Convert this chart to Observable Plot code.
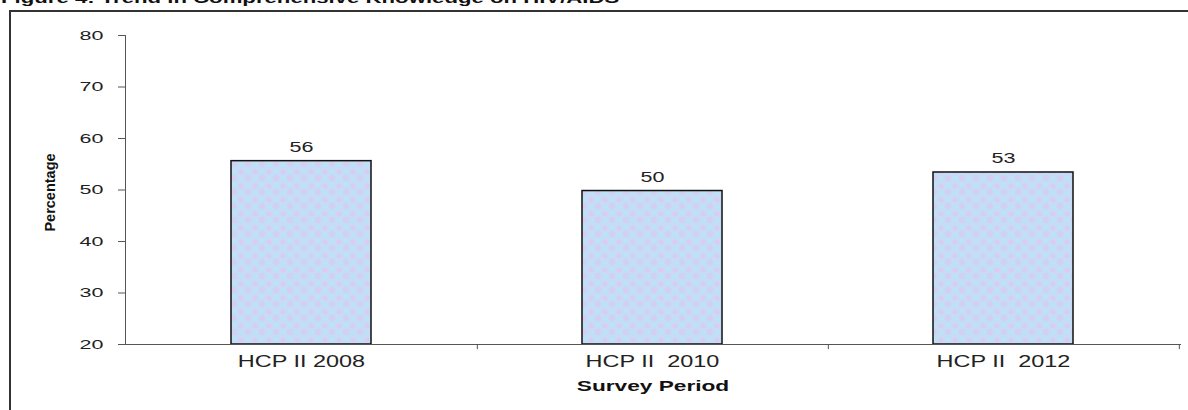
<!DOCTYPE html>
<html><head><meta charset="utf-8">
<script src="https://cdn.jsdelivr.net/npm/d3@7"></script>
<script src="https://cdn.jsdelivr.net/npm/@observablehq/plot@0.6"></script>
<style>
html,body{margin:0;padding:0;background:#fff;width:1188px;height:410px;overflow:hidden;position:relative;font-family:"Liberation Sans",Arial,sans-serif;}
#title{position:absolute;left:1px;top:-10px;font-weight:bold;font-size:15.5px;line-height:15.5px;white-space:nowrap;transform:scaleX(1.43);transform-origin:0 0;color:#111;}
#frame{position:absolute;left:9px;top:10px;width:1300px;height:500px;border-top:2px solid #333;border-left:2px solid #333;}
#chart{position:absolute;left:0;top:0;}
svg text{white-space:pre;}
</style></head><body>
<div id="title">Figure 4: Trend in Comprehensive Knowledge on HIV/AIDS</div>
<div id="frame"></div>
<div id="chart"></div>
<script>
const categories = ["HCP II 2008", "HCP II  2010", "HCP II  2012"];
const values = [55.6, 49.8, 53.4];
const yTicks = [20, 30, 40, 50, 60, 70, 80];
const yLabel = "Percentage";
const xLabel = "Survey Period";

const data = categories.map((c, i) => ({category: c, value: values[i], label: d3.format(".0f")(values[i])}));
const W = 1188, H = 410, ml = 125, mr = 8, mt = 35, mb = 66;
const step = (W - ml - mr) / categories.length;

const chart = Plot.plot({
  width: W, height: H, marginLeft: ml, marginRight: mr, marginTop: mt, marginBottom: mb,
  style: {background: "transparent", fontFamily: "Liberation Sans, Arial, sans-serif", color: "#222", overflow: "visible"},
  x: {domain: categories, type: "band", paddingInner: 0.6, paddingOuter: 0.3},
  y: {domain: [20, 80]},
  marks: [
    Plot.barY(data, {x: "category", y1: 20, y2: "value", fill: "url(#tex)", stroke: "#111", strokeWidth: 1.5}),
    Plot.frame({anchor: "left", stroke: "#555"}),
    Plot.frame({anchor: "bottom", stroke: "#555"}),
    Plot.ruleX(categories, {x: d => d, dx: step / 2, y1: 20, y2: 19, stroke: "#555"}),
    Plot.axisY(yTicks, {tickSize: 7, tickPadding: 15, fontSize: 12.8, stroke: "#555", fill: "#222", label: null}),
    Plot.axisX({tickSize: 0, tickPadding: 11, fontSize: 16.3, fill: "#222", label: null}),
    Plot.text(data, {x: "category", y: "value", text: "label", lineAnchor: "bottom", dy: -9.5, fontSize: 15.4, fill: "#222"}),
    Plot.text([xLabel], {frameAnchor: "bottom", textAnchor: "middle", lineAnchor: "top", dy: 36.7, fontSize: 14, fontWeight: "bold", fill: "#111"}),
    Plot.text([yLabel], {frameAnchor: "left", rotate: -90, textAnchor: "middle", lineAnchor: "middle", dx: -75, dy: 2.5, fontSize: 14.5, fontWeight: "bold", fill: "#111"})
  ]
});

const ns = "http://www.w3.org/2000/svg";
const defs = document.createElementNS(ns, "defs");
defs.innerHTML = `<pattern id="tex" width="14" height="14" patternUnits="userSpaceOnUse">
<rect width="14" height="14" fill="#c4ddf6"/>
<circle cx="3" cy="4" r="2.5" fill="#dccbf0"/>
<circle cx="10" cy="10" r="3" fill="#d4cef2"/>
<circle cx="10" cy="3" r="1.8" fill="#bbe4f7"/>
<circle cx="4" cy="11" r="1.8" fill="#bde2f7"/>
</pattern>`;
chart.insertBefore(defs, chart.firstChild);
document.getElementById("chart").appendChild(chart);

// horizontal stretch of the glyphs, as in the reference
const scaleMap = {"12.8": 1.68, "15.4": 1.4, "16.3": 1.44, "14.0": 1.62};
chart.querySelectorAll("text").forEach(t => {
  const fs = parseFloat(getComputedStyle(t).fontSize).toFixed(1);
  const s = scaleMap[fs];
  if (!s) return;
  let tr = t.getAttribute("transform") || "";
  const x = t.getAttribute("x");
  if (x !== null && isFinite(+x)) {
    tr += ` translate(${+x},0)`;
    t.removeAttribute("x");
  }
  t.setAttribute("transform", `${tr} scale(${s},1)`);
});
</script>
</body></html>
